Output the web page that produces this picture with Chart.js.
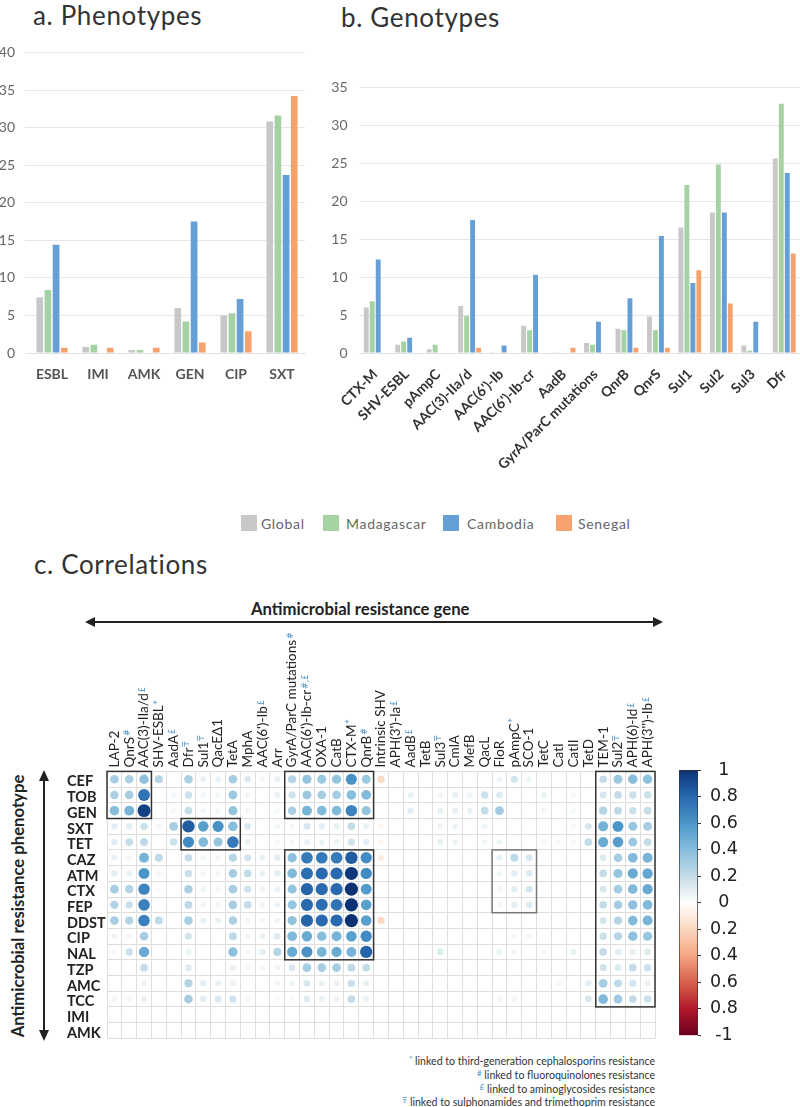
<!DOCTYPE html>
<html>
<head>
<meta charset="utf-8">
<title>Phenotypes, genotypes and correlations</title>
<script src="https://cdn.jsdelivr.net/npm/chart.js@4/dist/chart.umd.min.js"></script>
<style>
  body { margin: 0; background: #fff; font-family: Lato, sans-serif; }
  #page { position: relative; width: 800px; height: 1107px; overflow: hidden; }
  canvas { position: absolute; }
  .title { position: absolute; font-size: 26px; color: #333; letter-spacing: 0.65px; line-height: 32px; white-space: nowrap; }
  .swatch { position: absolute; top: 515px; width: 16px; height: 16px; }
  .key { position: absolute; top: 514px; font-size: 14px; line-height: 19px; color: #666; letter-spacing: 0.7px; }
  .bold { position: absolute; font-weight: bold; color: #222; white-space: nowrap; }
  .note { position: absolute; right: 145px; font-size: 10.6px; line-height: 13px; color: #333; white-space: nowrap; }
  .note b { font-weight: normal; color: #4a90c4; font-size: 8px; vertical-align: 3px; }
</style>
</head>
<body>
<div id="page">
  <div class="title" style="left:33px;top:-1px">a. Phenotypes</div>
  <div class="title" style="left:341px;top:1px">b. Genotypes</div>
  <div class="title" style="left:34px;top:548px">c. Correlations</div>

  <canvas id="chartA" width="310" height="360" style="left:0;top:40px"></canvas>
  <canvas id="chartB" width="480" height="440" style="left:320px;top:70px"></canvas>

  <div class="swatch" style="left:241px;background:#c8c8c8"></div><div class="key" style="left:261px">Global</div>
  <div class="swatch" style="left:323px;background:#a4d2a3"></div><div class="key" style="left:346px">Madagascar</div>
  <div class="swatch" style="left:443px;background:#659fd6"></div><div class="key" style="left:467px">Cambodia</div>
  <div class="swatch" style="left:556px;background:#f6a26e"></div><div class="key" style="left:578px">Senegal</div>

  <div class="bold" style="left:251px;top:599px;font-size:16.7px">Antimicrobial resistance gene</div>
  <svg style="position:absolute;left:0;top:600px" width="700" height="500">
    <g fill="#222" stroke="none">
      <rect x="92" y="21" width="564" height="2"/>
      <path d="M85 22 L95 17 L95 27 Z"/><path d="M663 22 L653 17 L653 27 Z"/>
      <rect x="43" y="178" width="2" height="256"/>
      <path d="M44 170 L39 181 L49 181 Z"/><path d="M44 441 L39 430 L49 430 Z"/>
    </g>
  </svg>
  <div class="bold" style="left:18px;top:906px;font-size:16.7px;transform:translate(-50%,-50%) rotate(-90deg)">Antimicrobial resistance phenotype</div>

  <canvas id="chartC" width="660" height="430" style="left:0;top:620px"></canvas>
  <canvas id="chartScale" width="100" height="300" style="left:670px;top:750px"></canvas>

  <div class="note" style="top:1053px"><b>*</b> linked to third-generation cephalosporins resistance</div>
  <div class="note" style="top:1067px"><b>#</b> linked to fluoroquinolones resistance</div>
  <div class="note" style="top:1081px"><b>£</b> linked to aminoglycosides resistance</div>
  <div class="note" style="top:1094px"><b>₸</b> linked to sulphonamides and trimethoprim resistance</div>
</div>

<script>
"use strict";
// panel a
const phenoLabels = ["ESBL", "IMI", "AMK", "GEN", "CIP", "SXT"];
const phenoGlobal = [7.4, 0.8, 0.4, 6.0, 5.0, 30.8];
const phenoMadagascar = [8.4, 1.1, 0.4, 4.2, 5.3, 31.6];
const phenoCambodia = [14.4, 0, 0, 17.5, 7.2, 23.7];
const phenoSenegal = [0.7, 0.7, 0.7, 1.4, 2.9, 34.2];

// panel b
const genoLabels = ["CTX-M", "SHV-ESBL", "pAmpC", "AAC(3)-IIa/d", "AAC(6')-Ib", "AAC(6')-Ib-cr", "AadB",
  "GyrA/ParC mutations", "QnrB", "QnrS", "Sul1", "Sul2", "Sul3", "Dfr"];
const genoGlobal = [6.0, 1.1, 0.5, 6.2, 0.1, 3.6, 0.1, 1.3, 3.2, 4.8, 16.5, 18.5, 1.0, 25.6];
const genoMadagascar = [6.8, 1.5, 1.1, 4.9, 0, 3.0, 0, 1.1, 3.0, 3.0, 22.1, 24.8, 0.3, 32.8];
const genoCambodia = [12.3, 2.0, 0, 17.5, 1.0, 10.3, 0, 4.1, 7.2, 15.4, 9.2, 18.5, 4.1, 23.7];
const genoSenegal = [0, 0, 0, 0.7, 0, 0, 0.7, 0, 0.7, 0.7, 10.9, 6.5, 0, 13.1];

// panel c
const genes = ["LAP-2", "QnrS", "AAC(3)-IIa/d", "SHV-ESBL", "AadA", "Dfr", "Sul1", "QacEΔ1", "TetA", "MphA",
  "AAC(6')-Ib", "Arr", "GyrA/ParC mutations", "AAC(6')-Ib-cr", "OXA-1", "CatB", "CTX-M", "QnrB", "Intrinsic SHV",
  "APH(3')-Ia", "AadB", "TetB", "Sul3", "CmlA", "MefB", "QacL", "FloR", "pAmpC", "SCO-1", "TetC", "CatI", "CatII",
  "TetD", "TEM-1", "Sul2", "APH(6)-Id", "APH(3'')-Ib"];
const geneMarks = ["", "#", "£", "*", "£", "₸", "₸", "", "", "", "£", "", "#", "#,£", "", "", "*", "#", "",
  "£", "£", "", "₸", "", "", "", "", "*", "", "", "", "", "", "", "₸", "£", "£"];
const phenotypes = ["CEF", "TOB", "GEN", "SXT", "TET", "CAZ", "ATM", "CTX", "FEP", "DDST", "CIP", "NAL", "TZP", "AMC", "TCC", "IMI", "AMK"];

const rCEF = [.30,.28,.38,.25,0,.28,.08,.08,.30,.12,.05,.08,.25,.36,.33,.36,.62,.33,-.18,0,0,0,0,0,0,0,.06,.15,.06,0,0,0,0,.20,.33,.40,.38];
const rTOB = [.28,.30,.75,0,.05,.18,.05,.05,.33,.05,0,.07,.16,.33,.30,.30,.40,.42,0,0,.08,0,.05,.08,.06,.18,.12,0,0,.08,0,.04,0,.14,.20,.18,.18];
const rGEN = [.40,.45,.95,0,.04,.20,.05,.05,.36,.05,0,.04,.28,.45,.42,.42,.68,.36,0,0,.10,0,.08,.08,.08,.20,.32,0,0,.05,0,.04,0,.25,.22,.18,.20];
const rSXT = [.10,.10,.18,.05,.30,.85,.55,.62,.40,.13,0,.05,.04,.14,.10,.08,.20,.08,-.05,0,0,0,.06,.07,0,.06,0,0,0,0,0,.04,.14,.46,.60,.34,.30];
const rTET = [.10,.20,.22,0,.18,.65,.42,.35,.72,.08,0,.04,.04,.08,.07,.07,.16,.10,-.05,0,0,0,.08,.07,0,.05,.06,0,0,.04,.04,.04,.20,.50,.56,.33,.20];
const rCAZ = [.08,.05,.45,.22,0,.20,.05,.05,.25,.16,.08,.10,.38,.72,.72,.72,.85,.65,-.10,0,0,0,0,0,0,0,.08,.22,.14,0,0,0,0,.12,.30,.42,.45];
const rATM = [.10,.08,.60,.05,0,.18,.05,.05,.30,.20,.08,.10,.42,.78,.80,.80,.98,.65,0,0,0,0,0,0,0,0,.06,.10,.12,0,0,0,0,.20,.35,.50,.52];
const rCTX = [.30,.25,.68,.03,0,.28,.06,.05,.30,.16,.06,.08,.35,.82,.80,.80,1,.58,0,0,0,0,0,0,0,0,.05,.10,.14,0,0,0,0,.14,.30,.42,.50];
const rFEP = [.26,.18,.70,0,0,.22,.05,.05,.30,.20,.06,.07,.35,.80,.78,.75,1,.55,0,0,0,0,0,0,0,0,.05,.10,.12,0,0,0,0,.20,.30,.38,.42];
const rDDST = [.30,.25,.70,.22,0,.30,.08,.08,.28,.06,.05,.06,.36,.82,.80,.80,1,.55,-.18,0,0,0,0,0,0,0,0,0,0,0,0,0,0,.15,.25,.42,.45];
const rCIP = [.06,.05,.30,0,0,.15,0,0,.22,.06,.08,.12,.42,.50,.40,.45,.55,.65,0,0,0,0,0,0,0,0,0,.04,.05,0,0,0,0,.18,.25,.38,.35];
const rNAL = [.04,.18,.50,0,0,.08,0,0,.38,.04,.10,.25,.50,.62,.45,.50,.45,.82,0,0,0,0,.12,0,0,0,.07,.05,0,.05,0,.08,0,.20,.10,.10,.12];
const rTZP = [0,0,.20,0,0,.12,0,0,.08,.05,.05,.05,.13,.30,.30,.30,.22,.20,0,0,0,0,0,0,0,0,0,0,0,0,0,0,0,.16,.12,.20,.18];
const rAMC = [0,0,.07,0,0,.25,.10,.08,.08,0,0,.05,.06,.14,.08,.08,.18,.08,0,0,0,0,0,0,0,0,0,0,0,0,.05,0,.10,.30,.22,.15,.08];
const rTCC = [.05,.05,.08,0,0,.30,.10,.13,.16,.04,0,.04,.03,.12,.08,.07,.20,.08,0,0,0,0,0,0,0,0,.05,.05,0,0,0,0,.14,.42,.32,.20,.18];
const rIMI = new Array(37).fill(0);
const rAMK = new Array(37).fill(0);
const matrix = [rCEF, rTOB, rGEN, rSXT, rTET, rCAZ, rATM, rCTX, rFEP, rDDST, rCIP, rNAL, rTZP, rAMC, rTCC, rIMI, rAMK];

// boxes drawn over the matrix: first gene, last gene, first row, last row, colour
const boxes = [
  ["LAP-2", "AAC(3)-IIa/d", "CEF", "GEN", "#333"],
  ["GyrA/ParC mutations", "QnrB", "CEF", "GEN", "#333"],
  ["Dfr", "TetA", "SXT", "TET", "#333"],
  ["GyrA/ParC mutations", "QnrB", "CAZ", "NAL", "#333"],
  ["FloR", "SCO-1", "CAZ", "FEP", "#777"],
  ["TEM-1", "APH(3'')-Ib", "CEF", "TCC", "#333"],
];

const colorStops = [
  [-1, [103, 0, 31]], [-0.8, [178, 24, 43]], [-0.6, [214, 96, 77]], [-0.4, [244, 165, 130]], [-0.2, [250, 215, 190]],
  [0, [255, 255, 255]], [0.2, [196, 220, 232]], [0.4, [135, 190, 220]], [0.6, [75, 150, 200]], [0.8, [40, 105, 175]], [1, [12, 50, 115]],
];
function corrColor(v) {
  for (let i = 1; i < colorStops.length; i++) {
    if (v <= colorStops[i][0]) {
      const a = colorStops[i - 1], b = colorStops[i];
      const t = (v - a[0]) / (b[0] - a[0]);
      const c = a[1].map((x, k) => Math.round(x + (b[1][k] - x) * t));
      return "rgb(" + c.join(",") + ")";
    }
  }
  return "rgb(12,50,115)";
}

// the scales must not add room for half a tick label, the plot areas are set by hand
function noScalePadding(s) {
  s.paddingTop = 0;
  s.paddingBottom = 0;
  s.paddingLeft = 0;
  s.paddingRight = 0;
}

function barPanel(id, labels, series, opts) {
  const names = ["Global", "Madagascar", "Cambodia", "Senegal"];
  const colors = ["#c8c8c8", "#a4d2a3", "#659fd6", "#f6a26e"];
  return new Chart(document.getElementById(id), {
    type: "bar",
    data: {
      labels: labels,
      datasets: series.map((s, i) => ({
        label: names[i], data: s, backgroundColor: colors[i],
        categoryPercentage: opts.catPct, barPercentage: 0.82,
      })),
    },
    options: {
      responsive: false,
      animation: false,
      layout: { autoPadding: false, padding: opts.padding },
      plugins: { legend: { display: false }, tooltip: { enabled: false } },
      scales: {
        x: {
          grid: { display: false },
          border: { color: "#e2e2e2" },
          afterFit: s => { s.height = opts.xHeight; noScalePadding(s); },
          ticks: { color: opts.xColor, font: { family: "Lato", size: 14, weight: "bold" }, padding: opts.xPad,
            minRotation: opts.rot, maxRotation: opts.rot, autoSkip: false },
        },
        y: {
          min: 0, max: opts.yMax,
          afterFit: s => { s.width = opts.yWidth; noScalePadding(s); },
          grid: { color: "#e6e6e6", tickLength: opts.tickLen, tickColor: "#e6e6e6" },
          border: { display: false },
          ticks: { stepSize: 5, color: "#666", font: { family: "Lato", size: 14 }, padding: opts.yPad },
        },
      },
    },
  });
}

barPanel("chartA", phenoLabels, [phenoGlobal, phenoMadagascar, phenoCambodia, phenoSenegal], {
  catPct: 0.71, rot: 0, yMax: 40, padding: { top: 12.5, right: 5, bottom: 0, left: 0 },
  xHeight: 47, yWidth: 29, tickLen: 4, xColor: "#555", xPad: 5, yPad: 10,
});
barPanel("chartB", genoLabels, [genoGlobal, genoMadagascar, genoCambodia, genoSenegal], {
  catPct: 0.76, rot: 45, yMax: 35, padding: { top: 17, right: 0, bottom: 0, left: 0 },
  xHeight: 157, yWidth: 39.5, tickLen: 0, xColor: "#333", xPad: 5, yPad: 12,
});

// superscript marks next to the gene names, and the boxes round the clusters
const matrixExtras = {
  id: "matrixExtras",
  afterDatasetsDraw(chart) {
    const ctx = chart.ctx, xs = chart.scales.x, ys = chart.scales.y;
    const halfW = (xs.getPixelForValue(1) - xs.getPixelForValue(0)) / 2;
    const halfH = (ys.getPixelForValue(1) - ys.getPixelForValue(0)) / 2;
    ctx.save();
    boxes.forEach(b => {
      const x0 = xs.getPixelForValue(genes.indexOf(b[0])) - halfW;
      const x1 = xs.getPixelForValue(genes.indexOf(b[1])) + halfW;
      const y0 = ys.getPixelForValue(phenotypes.indexOf(b[2])) - halfH;
      const y1 = ys.getPixelForValue(phenotypes.indexOf(b[3])) + halfH;
      ctx.strokeStyle = b[4];
      ctx.lineWidth = 1.5;
      ctx.strokeRect(x0, y0, x1 - x0, y1 - y0);
    });
    ctx.font = "13.5px Lato";
    const widths = genes.map(g => ctx.measureText(g).width);
    ctx.fillStyle = "#4a90c4";
    ctx.font = "8px 'DejaVu Sans'";
    ctx.textBaseline = "alphabetic";
    genes.forEach((g, i) => {
      if (!geneMarks[i]) return;
      ctx.save();
      ctx.translate(xs.getPixelForValue(i) + 1, xs.bottom - 4 - widths[i] - 1);
      ctx.rotate(-Math.PI / 2);
      ctx.fillText(geneMarks[i], 0, 0);
      ctx.restore();
    });
    ctx.restore();
  },
};

const cells = [];
matrix.forEach((row, j) => {
  row.forEach((v, i) => {
    if (v !== 0) cells.push({ x: genes[i], y: phenotypes[j], v: v });
  });
});

new Chart(document.getElementById("chartC"), {
  type: "bubble",
  data: {
    datasets: [{
      data: cells,
      radius: ctx => 1.6 + 5 * Math.sqrt(Math.abs(ctx.raw.v)),
      backgroundColor: ctx => corrColor(ctx.raw.v),
      borderWidth: 0,
      clip: false,
    }],
  },
  options: {
    responsive: false,
    animation: false,
    layout: { autoPadding: false, padding: { top: 0, right: 5, bottom: 11.7, left: 67 } },
    plugins: { legend: { display: false }, tooltip: { enabled: false } },
    scales: {
      x: {
        type: "category", labels: genes, position: "top", offset: true,
        afterFit: s => { s.height = 151.4; noScalePadding(s); },
        grid: { offset: true, color: "#dedede", drawTicks: false },
        border: { color: "#dedede" },
        ticks: { autoSkip: false, minRotation: 90, maxRotation: 90, labelOffset: 16.2, padding: 4, color: "#222", font: { family: "Lato", size: 13.5 } },
      },
      y: {
        type: "category", labels: phenotypes, offset: true,
        afterFit: s => { s.width = 40; noScalePadding(s); },
        grid: { offset: true, color: "#dedede", drawTicks: false },
        border: { color: "#dedede" },
        ticks: { autoSkip: false, crossAlign: "far", labelOffset: 2.5, padding: 0, color: "#222", font: { family: "Lato", size: 14.5, weight: "bold" } },
      },
    },
  },
  plugins: [matrixExtras],
});

// colour bar
const scaleRange = [[-1, 1]];
new Chart(document.getElementById("chartScale"), {
  type: "bar",
  data: {
    labels: [""],
    datasets: [{
      data: scaleRange,
      categoryPercentage: 1,
      barPercentage: 1,
      borderColor: "#333",
      borderWidth: 1,
      backgroundColor: ctx => {
        const area = ctx.chart.chartArea;
        if (!area) return "#fff";
        const g = ctx.chart.ctx.createLinearGradient(0, area.bottom, 0, area.top);
        colorStops.forEach(s => g.addColorStop((s[0] + 1) / 2, "rgb(" + s[1].join(",") + ")"));
        return g;
      },
    }],
  },
  options: {
    responsive: false,
    animation: false,
    layout: { autoPadding: false, padding: { top: 20, right: 0, bottom: 14.5, left: 9 } },
    plugins: { legend: { display: false }, tooltip: { enabled: false } },
    scales: {
      x: { display: false },
      y: {
        position: "right", min: -1, max: 1,
        afterFit: s => { s.width = 72; noScalePadding(s); },
        grid: { drawOnChartArea: false, drawTicks: true, tickLength: 3, tickColor: "#333" },
        border: { display: false },
        ticks: {
          stepSize: 0.2,
          padding: 9,
          crossAlign: "center",
          color: "#222",
          font: { family: "DejaVu Sans", size: 17.5 },
          callback: v => {
            const r = Math.round(v * 10) / 10;
            return r === -1 ? "-1" : String(Math.abs(r));
          },
        },
      },
    },
  },
});
</script>
</body>
</html>
